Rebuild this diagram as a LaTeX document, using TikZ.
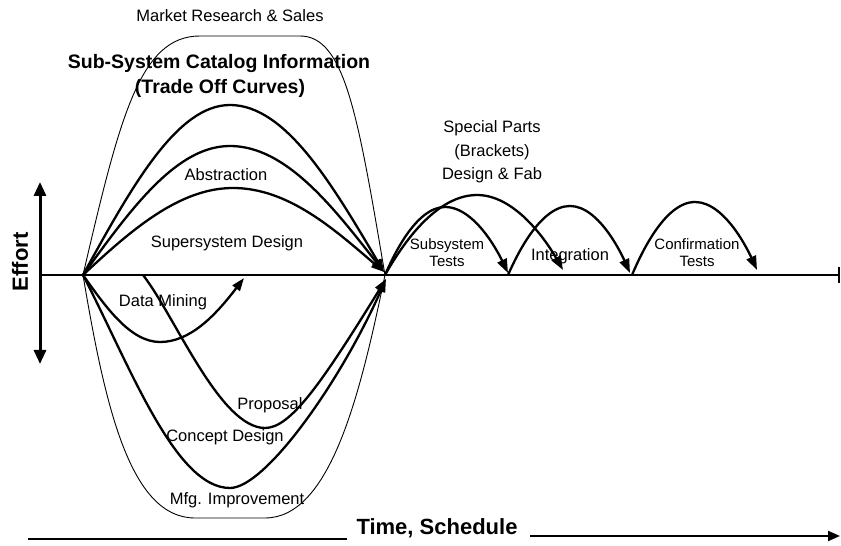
\documentclass[tikz,border=0pt]{standalone}
\usepackage{fontspec}
\setmainfont{Liberation Sans}
\usetikzlibrary{arrows.meta}
\begin{document}
\begin{tikzpicture}[x=1pt,y=1pt,
  thickc/.style={line width=2.3pt},
  thinc/.style={line width=0.9pt},
  tip/.style={-{Triangle[length=13pt,width=9pt]}},
  bigtip/.style={-{Triangle[length=14pt,width=10pt]}},
  lbl/.style={font=\fontsize{16.5}{19}\selectfont, inner sep=0pt},
  small/.style={font=\fontsize{15}{17}\selectfont, inner sep=0pt, align=center},
  boldl/.style={font=\bfseries\fontsize{19.5}{24}\selectfont, inner sep=0pt},
  axislbl/.style={font=\bfseries\fontsize{22}{26}\selectfont, inner sep=0pt}]
\useasboundingbox (0,0) rectangle (841,546);

% key points
\coordinate (O) at (40,271);
\coordinate (E) at (839,271);
\coordinate (Et) at (839,263);
\coordinate (Eb) at (839,279);
\coordinate (A) at (83,271);
\coordinate (B) at (385,271);
\coordinate (Bu) at (384,274);
\coordinate (Bl) at (386,267);
\coordinate (P0) at (143,271);
\coordinate (DMe) at (244,268);
\coordinate (S1) at (508,271);
\coordinate (S2) at (632,271);
\coordinate (EffT) at (40,364);
\coordinate (EffB) at (40,182);
\coordinate (TL0) at (28,7);
\coordinate (TL1) at (347,7);
\coordinate (TR0) at (530,10);
\coordinate (TR1) at (840,10);

% axes
\draw[line width=1.6pt] (O) -- (E);
\draw[line width=2pt] (Et) -- (Eb);
\draw[line width=3pt,{Triangle[length=14pt,width=12pt]}-{Triangle[length=14pt,width=12pt]}] (EffT) -- (EffB);
\node[axislbl, rotate=90] (effort) at (20,284) {Effort};

% upper curves
\draw[thinc] (A) .. controls (120,430) and (140,510) .. (200,510) -- (300,510) .. controls (345,510) and (358,430) .. (B);
\draw[thickc,tip] (A) .. controls (132,360) and (177,441) .. (230,441) .. controls (286,441) and (333,360) .. (Bu);
\draw[thickc,tip] (A) .. controls (132,339) and (177,400) .. (230,400) .. controls (286,400) and (333,339) .. (Bu);
\draw[thickc,tip] (A) .. controls (132,317) and (180,358) .. (233,358) .. controls (288,358) and (334,317) .. (Bu);

% lower curves
\draw[thickc,tip] (A) .. controls (105,240) and (130,204) .. (160,204) .. controls (190,204) and (215,230) .. (DMe);
\draw[thickc,tip] (P0) .. controls (175,230) and (220,118) .. (265,118) .. controls (290,118) and (320,160) .. (Bl);
\draw[thickc,tip] (A) .. controls (130,180) and (175,58) .. (230,58) .. controls (265,58) and (340,163) .. (Bl);
\draw[thinc] (A) .. controls (105,140) and (130,28) .. (195,28) -- (265,28) .. controls (330,28) and (360,150) .. (B);

% right arcs
\draw[thickc,bigtip] (B) parabola bend (445,339) (508,273);
\draw[thickc,bigtip] (B) parabola bend (477,351) (563,276);
\draw[thickc,bigtip] (S1) parabola bend (570,340) (630,273);
\draw[thickc,bigtip] (S2) parabola bend (695,344) (757,276);

% labels
\node[lbl] (mrs) at (230,530) {Market Research \& Sales};
\node[boldl] (ssc) at (219,482) {Sub-System Catalog Information};
\node[boldl] (toc) at (220,458) {(Trade Off Curves)};
\node[lbl] (abs) at (226,371) {Abstraction};
\node[lbl] (ssd) at (227,303) {Supersystem Design};
\node[lbl] (dm) at (163,244) {Data Mining};
\node[lbl] (prop) at (270,141) {Proposal};
\node[lbl] (cd) at (225,109) {Concept Design};
\node[lbl] (mfg) at (237,46) {Mfg. Improvement};
\node[lbl, align=center, font=\fontsize{16.5}{23.5}\selectfont] (sp) at (492,394) {Special Parts\\(Brackets)\\Design \& Fab};
\node[small] (sst) at (447,293) {Subsystem\\Tests};
\node[lbl] (integ) at (570,290) {Integration};
\node[small] (ct) at (697,293) {Confirmation\\Tests};

% time axis
\node[axislbl] (ts) at (437,18) {Time, Schedule};
\draw[line width=2pt] (TL0) -- (TL1);
\draw[line width=2pt,-{Triangle[length=12pt,width=10pt]}] (TR0) -- (TR1);
\end{tikzpicture}
\end{document}
